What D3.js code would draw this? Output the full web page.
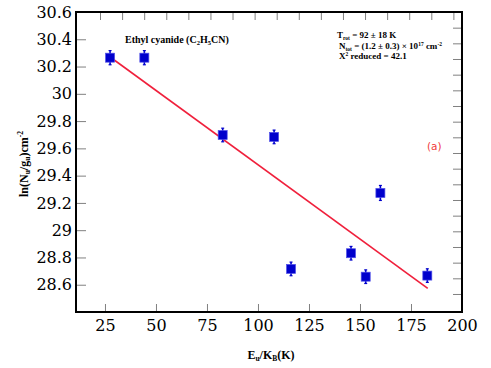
<!DOCTYPE html>
<html>
<head>
<meta charset="utf-8">
<script src="https://cdn.jsdelivr.net/npm/d3@7"></script>
<style>
	body { margin: 0; background: #fff; }
	svg { display: block; }
	.tick line { stroke: #808080; }
	.domain { display: none; }
</style>
</head>
<body>
<svg id="main" width="491" height="368"></svg>
<script>

// energies of upper levels (K)
const eu = [27.5, 44.3, 82.7, 107.9, 116.2, 145.6, 152.8, 160, 183];
// ln(Nu/gu)
const lnN = [30.265, 30.265, 29.698, 29.684, 28.716, 28.831, 28.659, 29.273, 28.667];
const err = [0.052, 0.052, 0.05, 0.05, 0.05, 0.05, 0.05, 0.055, 0.05];

// fitted line endpoints
const fitX = [27.5, 183.2];
const fitY = [30.27, 28.574];

const xTicks = [25, 50, 75, 100, 125, 150, 175, 200];
const yTicks = [28.6, 28.8, 29, 29.2, 29.4, 29.6, 29.8, 30, 30.2, 30.4, 30.6];
const topTicks = [0, 1, 2, 3, 4, 5, 6, 7, 8, 9, 10, 11, 12, 13, 14, 15, 16];
const rightTicks = [0, 1, 2, 3, 4, 5, 6, 7, 8, 9, 10, 11, 12, 13, 14, 15, 16, 17];

main();

function main() {
	let margin = {top: 12, left: 76, right: 29, bottom: 56},
		width = 491 - margin.left - margin.right,
		height = 368 - margin.top - margin.bottom;

	let svg = d3.select('#main');
	let g = svg.append('g').attr('transform', `translate(${margin.left},${margin.top})`);

	let x = d3.scaleLinear().domain([10.8, 200]).range([0, width]);
	let y = d3.scaleLinear().domain([28.4, 30.6]).range([height, 0]);
	// the top and right borders carry their own unlabeled tick spacing
	let xTop = d3.scaleLinear().domain([-1.087, 16.39]).range([0, width]);
	let yRight = d3.scaleLinear().domain([-1, 18.15]).range([0, height]);

	let serif = "'DejaVu Serif', serif";

	g.append('g')
		.attr('transform', `translate(0,${height})`)
		.call(d3.axisBottom(x).tickValues(xTicks).tickSize(-8).tickPadding(8).tickFormat(d => d))
		.call(a => a.selectAll('text').attr('font-family', serif).attr('font-size', 16).attr('fill', '#000'));

	g.append('g')
		.call(d3.axisLeft(y).tickValues(yTicks).tickSize(-10).tickPadding(4).tickFormat(d => String(d)))
		.call(a => a.selectAll('text').attr('font-family', serif).attr('font-size', 16).attr('fill', '#000'));

	g.append('g')
		.call(d3.axisTop(xTop).tickValues(topTicks).tickSize(-8).tickFormat(''));

	g.append('g')
		.attr('transform', `translate(${width},0)`)
		.call(d3.axisRight(yRight).tickValues(rightTicks).tickSize(-9).tickFormat(''));

	// frame
	g.append('rect')
		.attr('width', width).attr('height', height)
		.attr('fill', 'none').attr('stroke', '#000').attr('stroke-width', 2);

	// fit line
	g.append('path')
		.datum(d3.zip(fitX, fitY))
		.attr('d', d3.line().x(d => x(d[0])).y(d => y(d[1])))
		.attr('stroke', '#f0203c').attr('stroke-width', 1.6).attr('fill', 'none');

	let pts = eu.map((d, i) => ({x: d, y: lnN[i], e: err[i]}));

	let pt = g.append('g').selectAll('g').data(pts).enter().append('g');
	pt.append('line')
		.attr('x1', d => x(d.x)).attr('x2', d => x(d.x))
		.attr('y1', d => y(d.y + d.e)).attr('y2', d => y(d.y - d.e))
		.attr('stroke', '#0000cc').attr('stroke-width', 1.6);
	pt.selectAll('.cap').data(d => [[d.x, d.y + d.e], [d.x, d.y - d.e]]).enter().append('line')
		.attr('x1', d => x(d[0]) - 1.5).attr('x2', d => x(d[0]) + 1.5)
		.attr('y1', d => y(d[1])).attr('y2', d => y(d[1]))
		.attr('stroke', '#0000cc').attr('stroke-width', 1.2);
	pt.append('rect')
		.attr('x', d => x(d.x) - 4.5).attr('y', d => y(d.y) - 4.5)
		.attr('width', 9).attr('height', 9)
		.attr('fill', '#0000cc').attr('stroke', '#5050e8').attr('stroke-width', 0.7);

	let tf = "'Liberation Serif', 'Times New Roman', serif";

	// species label
	let sp = svg.append('text').attr('x', 125).attr('y', 43)
		.attr('font-family', tf).attr('font-size', 10).attr('font-weight', 'bold').attr('fill', '#000');
	sp.append('tspan').text('Ethyl cyanide (C');
	sp.append('tspan').text('2').attr('font-size', 6.5).attr('dy', 1.5);
	sp.append('tspan').text('H').attr('dy', -1.5);
	sp.append('tspan').text('5').attr('font-size', 6.5).attr('dy', 1.5);
	sp.append('tspan').text('CN)').attr('dy', -1.5);

	// fit results
	let t1 = svg.append('text').attr('x', 337).attr('y', 38)
		.attr('font-family', tf).attr('font-size', 9).attr('font-weight', 'bold').attr('fill', '#000');
	t1.append('tspan').text('T');
	t1.append('tspan').text('rot').attr('font-size', 5.5).attr('dy', 1.5);
	t1.append('tspan').text(' =  92 ± 18  K').attr('dy', -1.5);

	let t2 = svg.append('text').attr('x', 339).attr('y', 49)
		.attr('font-family', tf).attr('font-size', 9).attr('font-weight', 'bold').attr('fill', '#000');
	t2.append('tspan').text('N');
	t2.append('tspan').text('tot').attr('font-size', 5.5).attr('dy', 1.5);
	t2.append('tspan').text(' = (1.2 ± 0.3) × 10').attr('dy', -1.5);
	t2.append('tspan').text('17').attr('font-size', 5.5).attr('dy', -3);
	t2.append('tspan').text(' cm').attr('dy', 3);
	t2.append('tspan').text('-2').attr('font-size', 5.5).attr('dy', -3);

	let t3 = svg.append('text').attr('x', 339).attr('y', 59)
		.attr('font-family', tf).attr('font-size', 9).attr('font-weight', 'bold').attr('fill', '#000');
	t3.append('tspan').text('X');
	t3.append('tspan').text('2').attr('font-size', 5.5).attr('dy', -3);
	t3.append('tspan').text(' reduced = 42.1').attr('dy', 3);

	svg.append('text').attr('x', 427).attr('y', 150)
		.attr('font-family', "'DejaVu Sans', sans-serif").attr('font-size', 10.5)
		.attr('fill', '#f03c3c').text('(a)');

	// axis titles
	let xl = svg.append('text').attr('x', 271).attr('y', 359).attr('text-anchor', 'middle')
		.attr('font-family', tf).attr('font-size', 12).attr('font-weight', 'bold').attr('fill', '#000');
	xl.append('tspan').text('E');
	xl.append('tspan').text('u').attr('font-size', 7.5).attr('dy', 2);
	xl.append('tspan').text('/K').attr('dy', -2);
	xl.append('tspan').text('B').attr('font-size', 7.5).attr('dy', 2);
	xl.append('tspan').text('(K)').attr('dy', -2);

	let yl = svg.append('text').attr('transform', 'translate(28,164) rotate(-90)').attr('text-anchor', 'middle')
		.attr('font-family', tf).attr('font-size', 12).attr('font-weight', 'bold').attr('fill', '#000');
	yl.append('tspan').text('ln(N');
	yl.append('tspan').text('u').attr('font-size', 7.5).attr('dy', 2);
	yl.append('tspan').text('/g').attr('dy', -2);
	yl.append('tspan').text('u').attr('font-size', 7.5).attr('dy', 2);
	yl.append('tspan').text(')cm').attr('dy', -2);
	yl.append('tspan').text('-2').attr('font-size', 7.5).attr('dy', -5);
}

</script>
</body>
</html>
